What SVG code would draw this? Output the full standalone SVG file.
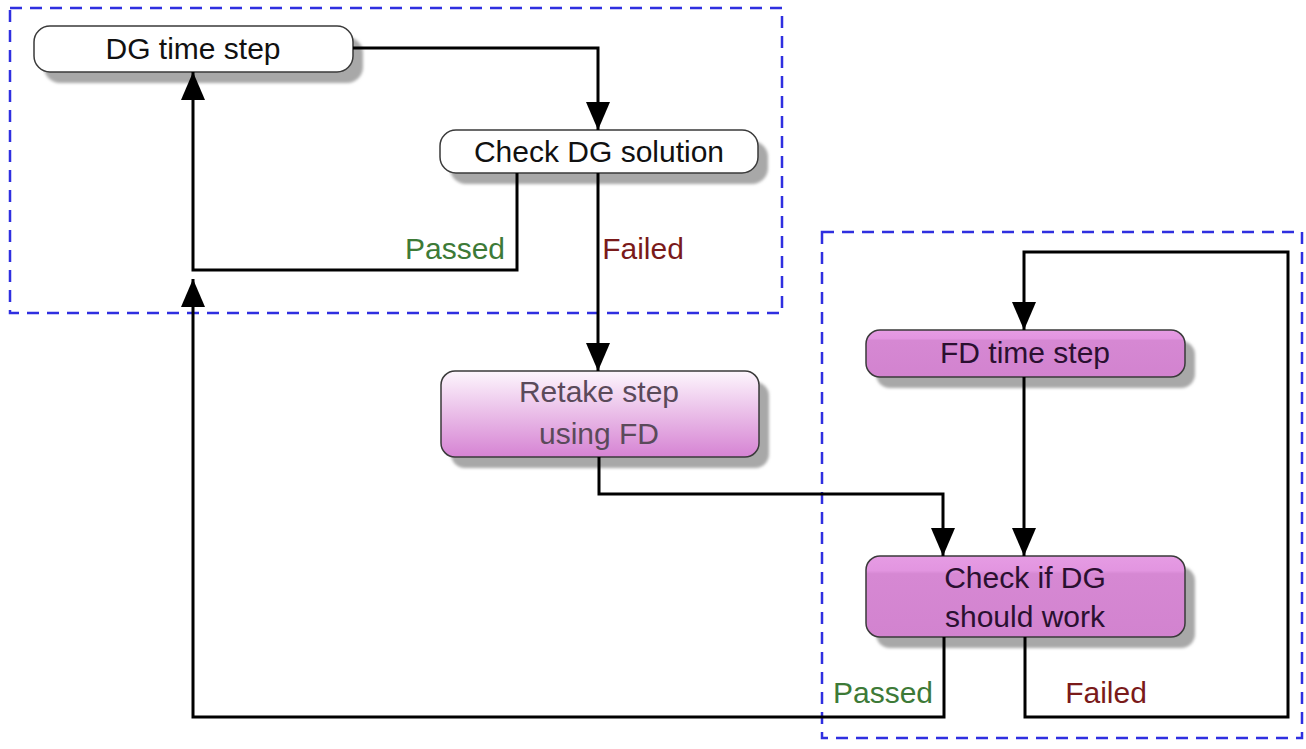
<svg xmlns="http://www.w3.org/2000/svg" width="1306" height="749" viewBox="0 0 1306 749">
<style>
.frame{fill:none;stroke:#2f2fe0;stroke-width:2.5;stroke-dasharray:12 8}
.box{stroke:#3a3a3a;stroke-width:1.5}
.shadow{fill:#a8a8a8}
.txt{font-family:"Liberation Sans",Arial,sans-serif;font-size:30px;text-anchor:middle;fill:#111}
.pk{fill:#2a1030}
.gr{fill:#3d7a37}
.rd{fill:#7a1a1a}
.con path{fill:none;stroke:#000;stroke-width:3}
</style>
<defs>
<filter id="blur" x="-20%" y="-50%" width="140%" height="200%"><feGaussianBlur stdDeviation="1.8"/></filter>
<linearGradient id="retake" x1="0" y1="0" x2="0" y2="1">
<stop offset="0" stop-color="#fdf6fd"/>
<stop offset="1" stop-color="#d683d3"/>
</linearGradient>
<linearGradient id="pink" x1="0" y1="0" x2="0" y2="1">
<stop offset="0" stop-color="#e69ce4"/>
<stop offset="0.18" stop-color="#e295e0"/>
<stop offset="0.22" stop-color="#d688d3"/>
<stop offset="1" stop-color="#d283cf"/>
</linearGradient>
<marker id="arr" markerUnits="userSpaceOnUse" markerWidth="30" markerHeight="24" refX="28" refY="12" orient="auto">
<path d="M0,0 L28,12 L0,24 z" fill="#000"/>
</marker>
</defs>
<rect class="frame" x="10" y="8" width="772" height="305"/>
<rect class="frame" x="822" y="232" width="480" height="506"/>
<g id="n-dg-step">
<rect class="shadow" filter="url(#blur)" x="44" y="37" width="319" height="46" rx="16"/>
<rect class="box" x="34" y="26" width="319" height="46" rx="16" fill="#fff"/>
<text class="txt" x="193" y="59">DG time step</text>
</g>
<g id="n-check-dg">
<rect class="shadow" filter="url(#blur)" x="450" y="141" width="318" height="43" rx="16"/>
<rect class="box" x="440" y="130" width="318" height="43" rx="16" fill="#fff"/>
<text class="txt" x="599" y="162">Check DG solution</text>
</g>
<g id="n-retake">
<rect class="shadow" filter="url(#blur)" x="451" y="382" width="318" height="86" rx="14"/>
<rect class="box" x="441" y="371" width="318" height="86" rx="14" fill="url(#retake)"/>
<text class="txt" x="599" y="402" style="fill:#5a4a5a">Retake step</text>
<text class="txt" x="599" y="444" style="fill:#5a4a5a">using FD</text>
</g>
<g id="n-fd-step">
<rect class="shadow" filter="url(#blur)" x="876" y="341" width="319" height="47" rx="14"/>
<rect class="box" x="866" y="330" width="319" height="47" rx="14" fill="url(#pink)"/>
<text class="txt pk" x="1025" y="363">FD time step</text>
</g>
<g id="n-check-if">
<rect class="shadow" filter="url(#blur)" x="876" y="567" width="319" height="81" rx="14"/>
<rect class="box" x="866" y="556" width="319" height="81" rx="14" fill="url(#pink)"/>
<text class="txt pk" x="1025" y="588">Check if DG</text>
<text class="txt pk" x="1025" y="627">should work</text>
</g>
<g id="connectors" class="con">
<path d="M353,48 H598 V130" marker-end="url(#arr)"/>
<path d="M517,173 V270 H193 V72" marker-end="url(#arr)"/>
<path d="M598,173 V371" marker-end="url(#arr)"/>
<path d="M599,457 V494 H943 V556" marker-end="url(#arr)"/>
<path d="M1024,377 V556" marker-end="url(#arr)"/>
<path d="M944,637 V717 H193 V279" marker-end="url(#arr)"/>
<path d="M1025,637 V717 H1288 V252 H1024 V330" marker-end="url(#arr)"/>
</g>
<g id="labels">
<text class="txt gr" x="455" y="259">Passed</text>
<text class="txt rd" x="643" y="259">Failed</text>
<text class="txt gr" x="883" y="703">Passed</text>
<text class="txt rd" x="1106" y="703">Failed</text>
</g>
</svg>
